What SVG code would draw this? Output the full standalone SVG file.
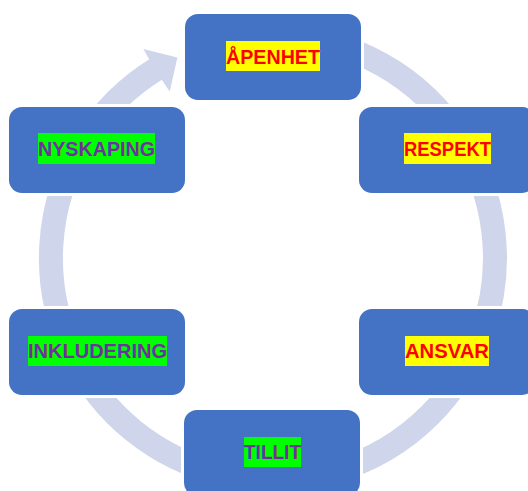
<svg xmlns="http://www.w3.org/2000/svg" width="528" height="491" viewBox="0 0 528 491">
  <style>
    .box { fill: #4472C4; stroke: #FFFFFF; stroke-width: 6; paint-order: stroke; }
    .ring { fill: none; stroke: #CFD5EA; stroke-width: 24; }
    .head { fill: #CFD5EA; }
    .hl-y { fill: #FFFF00; }
    .hl-g { fill: #00FF00; }
    .lbl { font-family: "Liberation Sans", Arial, sans-serif; font-weight: bold; font-size: 21px; }
    .red { fill: #FF0000; }
    .pur { fill: #7030A0; }
  </style>
  <rect width="528" height="491" fill="#FFFFFF"/>
  <g id="connectors">
    <path class="ring" d="M 273 36 A 222 222 0 1 1 156 69.3"/>
    <polygon class="head" points="143.4,48.9 177.4,57.6 169.7,91.4 155.5,70.5"/>
  </g>
  <g id="node-apenhet">
    <rect class="box" x="185" y="14" width="176" height="86" rx="13"/>
    <rect class="hl-y" x="226" y="41" width="94" height="30"/>
    <text class="lbl red" x="226" y="64" textLength="94" lengthAdjust="spacingAndGlyphs">ÅPENHET</text>
  </g>
  <g id="node-respekt">
    <rect class="box" x="359" y="107" width="176" height="86" rx="13"/>
    <rect class="hl-y" x="404" y="133" width="87" height="31"/>
    <text class="lbl red" x="404" y="156" textLength="87" lengthAdjust="spacingAndGlyphs">RESPEKT</text>
  </g>
  <g id="node-ansvar">
    <rect class="box" x="359" y="309" width="176" height="86" rx="13"/>
    <rect class="hl-y" x="405" y="336" width="84" height="30"/>
    <text class="lbl red" x="405" y="358" textLength="84" lengthAdjust="spacingAndGlyphs">ANSVAR</text>
  </g>
  <g id="node-tillit">
    <rect class="box" x="184" y="410" width="176" height="86" rx="13"/>
    <rect class="hl-g" x="244" y="437" width="57" height="30"/>
    <text class="lbl pur" x="244" y="459" textLength="57" lengthAdjust="spacingAndGlyphs">TILLIT</text>
  </g>
  <g id="node-inkludering">
    <rect class="box" x="9" y="309" width="176" height="86" rx="13"/>
    <rect class="hl-g" x="28" y="336" width="139" height="30"/>
    <text class="lbl pur" x="28" y="358" textLength="139" lengthAdjust="spacingAndGlyphs">INKLUDERING</text>
  </g>
  <g id="node-nyskaping">
    <rect class="box" x="9" y="107" width="176" height="86" rx="13"/>
    <rect class="hl-g" x="38" y="133" width="117" height="31"/>
    <text class="lbl pur" x="38" y="156" textLength="117" lengthAdjust="spacingAndGlyphs">NYSKAPING</text>
  </g>
</svg>
